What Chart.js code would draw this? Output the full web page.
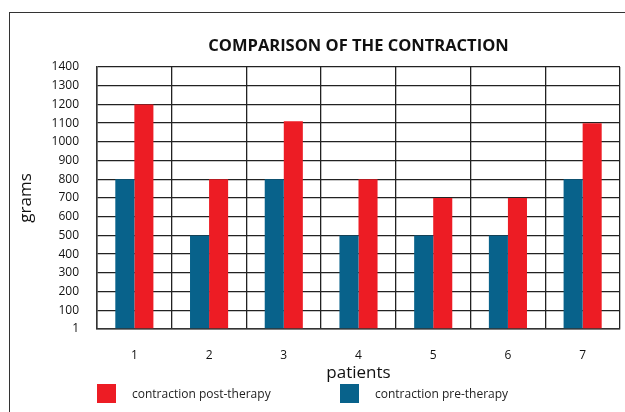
<!DOCTYPE html>
<html>
<head>
<meta charset="utf-8">
<script src="https://cdn.jsdelivr.net/npm/chart.js@4"></script>
<style>
  body { margin: 0; background: #fff; }
  #wrap { position: relative; width: 625px; height: 412px; overflow: hidden; font-family: "Open Sans", sans-serif; }
  #frame { position: absolute; left: 9px; top: 12px; width: 640px; height: 420px; border-left: 1px solid #333; border-top: 1px solid #333; }
  #grafico { position: absolute; left: 0; top: 0; }
  .leg { position: absolute; top: 384px; font-size: 12px; color: #222; }
  .leg span { position: absolute; top: 0; width: 19px; height: 19px; }
  .leg b { position: absolute; top: 1px; white-space: nowrap; font-weight: normal; }
</style>
</head>
<body>
<div id="wrap">
  <div id="frame"></div>
  <canvas id="grafico" width="625" height="412"></canvas>
  <div class="leg" style="left:97px"><span style="background:#ED1C24"></span><b style="left:35px">contraction post-therapy</b></div>
  <div class="leg" style="left:340px"><span style="background:#08628B"></span><b style="left:35px">contraction pre-therapy</b></div>
</div>
<script>
let pacientes = ['1', '2', '3', '4', '5', '6', '7'];
let preTerapia = [800, 500, 800, 500, 500, 500, 800];
let posTerapia = [1200, 800, 1110, 800, 700, 700, 1100];
let titulo = 'COMPARISON OF THE CONTRACTION';

let fonte = "'Open Sans', sans-serif";

// titulo centrado sobre a area do grafico (nao sobre o canvas todo)
const tituloPlugin = {
    id: 'tituloPlugin',
    afterDraw(chart) {
        const ctx = chart.ctx;
        const area = chart.chartArea;
        ctx.save();
        ctx.font = "bold 16.5px " + fonte;
        ctx.fillStyle = '#111';
        ctx.textAlign = 'center';
        ctx.textBaseline = 'middle';
        ctx.fillText(titulo, (area.left + area.right) / 2, 46);
        ctx.restore();
    }
};

new Chart(document.getElementById('grafico'), {
    type: 'bar',
    data: {
        labels: pacientes,
        datasets: [{
            label: 'contraction pre-therapy',
            data: preTerapia,
            backgroundColor: '#08628B'
        }, {
            label: 'contraction post-therapy',
            data: posTerapia,
            backgroundColor: '#ED1C24'
        }]
    },
    plugins: [tituloPlugin],
    options: {
        responsive: false,
        animation: false,
        layout: { padding: { left: 12, right: 5, top: 67, bottom: 29 } },
        datasets: { bar: { categoryPercentage: 0.51, barPercentage: 1 } },
        plugins: {
            legend: { display: false },
            tooltip: { enabled: false },
            title: { display: false }
        },
        scales: {
            x: {
                afterFit: s => { s.height = 54; },
                grid: { color: '#222', lineWidth: 1.3, drawTicks: false },
                border: { color: '#333', width: 1.5 },
                ticks: { color: '#111', font: { family: fonte, size: 12 }, padding: 19 },
                title: {
                    display: true, text: 'patients', color: '#111',
                    font: { family: fonte, size: 17 }, padding: { top: 1, bottom: 0 }
                }
            },
            y: {
                min: 0,
                max: 1400,
                afterFit: s => { s.width = 85; },
                grid: { color: '#222', lineWidth: 1.3, drawTicks: false },
                border: { color: '#333', width: 1.5 },
                ticks: {
                    stepSize: 100,
                    autoSkip: false,
                    color: '#111',
                    font: { family: fonte, size: 12 },
                    padding: 18,
                    callback: v => v === 0 ? '1' : v
                },
                title: {
                    display: true, text: 'grams', color: '#111',
                    font: { family: fonte, size: 17 }, padding: { top: 4, bottom: 0 }
                }
            }
        }
    }
});
</script>
</body>
</html>
